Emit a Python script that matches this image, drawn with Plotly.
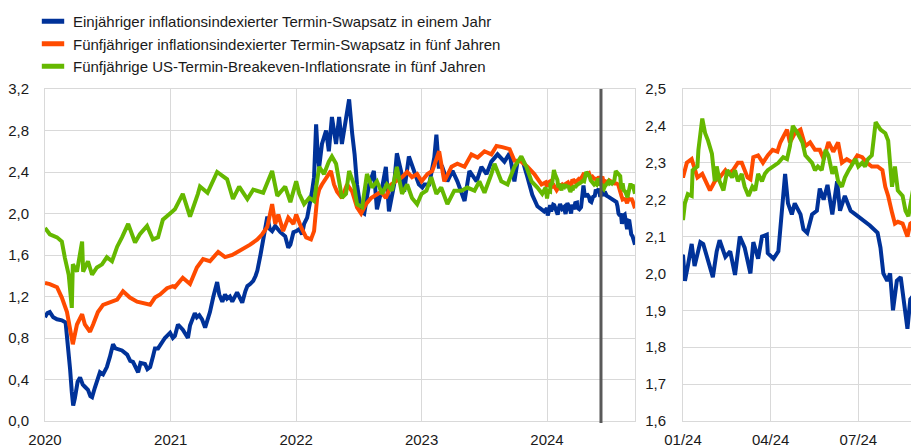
import plotly.graph_objects as go

# ---------------- data ----------------
series_names = [
    "Einjähriger inflationsindexierter Termin-Swapsatz in einem Jahr",
    "Fünfjähriger inflationsindexierter Termin-Swapsatz in fünf Jahren",
    "Fünfjährige US-Termin-Breakeven-Inflationsrate in fünf Jahren",
]

blue_pts = [
    ("2020-01-01",1.00),("2020-01-08",1.04),("2020-01-15",1.05),("2020-01-25",1.00),("2020-02-05",0.98),
    ("2020-02-19",0.97),("2020-03-01",0.95),("2020-03-08",0.75),("2020-03-14",0.50),("2020-03-19",0.28),
    ("2020-03-23",0.15),("2020-03-28",0.22),("2020-04-05",0.38),("2020-04-12",0.42),("2020-04-20",0.35),
    ("2020-04-26",0.33),("2020-05-05",0.30),("2020-05-12",0.24),("2020-05-17",0.23),("2020-05-25",0.32),
    ("2020-06-03",0.40),("2020-06-09",0.47),("2020-06-18",0.45),("2020-06-29",0.52),("2020-07-08",0.62),
    ("2020-07-17",0.74),("2020-07-24",0.70),("2020-07-31",0.69),("2020-08-12",0.68),("2020-08-27",0.64),
    ("2020-09-05",0.58),("2020-09-13",0.57),("2020-09-20",0.52),("2020-09-28",0.47),("2020-10-05",0.56),
    ("2020-10-18",0.55),("2020-10-25",0.50),("2020-11-02",0.52),("2020-11-10",0.62),("2020-11-16",0.70),
    ("2020-11-25",0.70),("2020-12-06",0.76),("2020-12-15",0.80),("2020-12-24",0.83),("2020-12-30",0.85),
    ("2021-01-07",0.80),("2021-01-13",0.82),("2021-01-22",0.93),("2021-02-05",0.88),("2021-02-20",0.80),
    ("2021-02-26",0.92),("2021-03-12",1.04),("2021-03-18",1.00),("2021-03-25",1.02),("2021-04-02",0.98),
    ("2021-04-11",0.90),("2021-04-17",0.96),("2021-04-25",1.05),("2021-05-05",1.20),("2021-05-16",1.34),
    ("2021-05-22",1.22),("2021-05-31",1.15),("2021-06-08",1.22),("2021-06-14",1.18),("2021-06-22",1.20),
    ("2021-06-29",1.15),("2021-07-13",1.24),("2021-07-20",1.20),("2021-07-28",1.14),("2021-08-06",1.25),
    ("2021-08-12",1.30),("2021-08-20",1.32),("2021-08-29",1.35),("2021-09-05",1.40),("2021-09-10",1.45),
    ("2021-09-19",1.60),("2021-09-27",1.73),("2021-10-09",1.97),("2021-10-16",1.85),("2021-10-23",1.83),
    ("2021-11-01",1.88),("2021-11-10",1.84),("2021-11-16",1.82),("2021-11-30",1.78),("2021-12-09",1.67),
    ("2021-12-15",1.70),("2021-12-24",1.82),("2022-01-01",1.83),("2022-01-10",1.85),("2022-01-18",1.80),
    ("2022-01-24",1.90),("2022-02-02",1.96),("2022-02-08",2.05),("2022-02-16",2.21),("2022-02-22",2.35),
    ("2022-02-28",2.86),("2022-03-05",2.55),("2022-03-09",2.45),("2022-03-17",2.67),("2022-03-29",2.80),
    ("2022-04-06",2.60),("2022-04-15",2.93),("2022-04-27",2.67),("2022-05-06",2.93),("2022-05-14",2.67),
    ("2022-05-26",2.93),("2022-06-04",3.10),("2022-06-13",2.77),("2022-06-20",2.57),("2022-06-27",2.28),
    ("2022-07-09",2.02),("2022-07-18",2.00),("2022-08-01",2.28),("2022-08-15",2.41),("2022-08-24",2.04),
    ("2022-09-08",2.25),("2022-09-19",2.45),("2022-09-28",2.02),("2022-10-13",2.28),("2022-10-21",2.58),
    ("2022-11-02",2.41),("2022-11-11",2.21),("2022-11-25",2.55),("2022-12-10",2.41),("2022-12-24",2.28),
    ("2023-01-03",2.25),("2023-01-09",2.28),("2023-01-23",2.28),("2023-02-07",2.54),("2023-02-13",2.76),
    ("2023-02-20",2.45),("2023-03-02",2.45),("2023-03-17",2.31),("2023-04-01",2.41),("2023-04-15",2.31),
    ("2023-05-06",2.12),("2023-05-20",2.41),("2023-06-10",2.31),("2023-06-24",2.45),("2023-07-09",2.38),
    ("2023-07-23",2.50),("2023-08-10",2.57),("2023-08-30",2.50),("2023-09-14",2.58),("2023-09-28",2.31),
    ("2023-10-07",2.50),("2023-10-21",2.52),("2023-11-05",2.35),("2023-11-19",2.18),("2023-12-04",2.07),
    ("2023-12-24",2.02),
    ("2024-01-01",2.05),("2024-01-03",1.98),("2024-01-06",2.02),("2024-01-10",2.08),("2024-01-13",2.02),
    ("2024-01-19",2.085),("2024-01-22",2.08),("2024-01-26",2.045),("2024-02-01",1.99),("2024-02-05",2.06),
    ("2024-02-08",2.09),("2024-02-14",2.045),("2024-02-19",2.06),("2024-02-24",1.996),("2024-02-29",2.10),
    ("2024-03-05",2.07),("2024-03-11",2.00),("2024-03-14",2.085),("2024-03-19",2.04),("2024-03-23",2.10),
    ("2024-03-28",2.105),("2024-03-29",2.055),("2024-04-04",2.04),("2024-04-09",2.06),("2024-04-13",2.19),
    ("2024-04-16",2.27),("2024-04-19",2.19),("2024-04-23",2.16),("2024-04-26",2.19),("2024-05-02",2.16),
    ("2024-05-05",2.12),("2024-05-09",2.11),("2024-05-14",2.16),("2024-05-19",2.17),("2024-05-22",2.23),
    ("2024-05-26",2.20),("2024-05-30",2.24),("2024-06-04",2.16),("2024-06-09",2.25),("2024-06-12",2.17),
    ("2024-06-17",2.21),("2024-06-23",2.17),("2024-06-28",2.16),("2024-07-03",2.15),("2024-07-08",2.14),
    ("2024-07-13",2.13),("2024-07-21",2.11),("2024-07-24",2.07),("2024-07-27",2.00),("2024-07-31",1.98),
    ("2024-08-03",2.00),("2024-08-06",1.90),("2024-08-10",1.98),("2024-08-14",1.99),("2024-08-17",1.93),
    ("2024-08-21",1.85),("2024-08-24",1.93),("2024-08-27",1.94),("2024-08-31",1.85),("2024-09-02",1.80),
    ("2024-09-06",1.78),("2024-09-10",1.74),("2024-09-13",1.70),
]

orange_pts = [
    ("2020-01-01",1.33),("2020-01-15",1.32),("2020-02-05",1.29),("2020-02-19",1.19),("2020-03-05",1.05),
    ("2020-03-14",0.90),("2020-03-22",0.74),("2020-04-03",0.93),("2020-04-18",1.03),("2020-04-26",0.93),
    ("2020-05-11",0.86),("2020-05-20",0.93),("2020-06-03",1.05),("2020-06-18",1.12),("2020-07-08",1.14),
    ("2020-07-29",1.17),("2020-08-15",1.25),("2020-09-04",1.19),("2020-09-25",1.15),("2020-10-12",1.14),
    ("2020-11-02",1.12),("2020-11-16",1.19),("2020-12-01",1.22),("2020-12-21",1.28),("2021-01-07",1.30),
    ("2021-01-13",1.29),("2021-02-05",1.38),("2021-02-26",1.32),("2021-03-18",1.48),("2021-04-05",1.56),
    ("2021-04-25",1.54),("2021-05-19",1.63),("2021-06-08",1.58),("2021-06-29",1.60),("2021-07-16",1.63),
    ("2021-08-06",1.67),("2021-08-20",1.70),("2021-09-10",1.75),("2021-09-24",1.80),("2021-10-09",1.87),
    ("2021-10-23",2.09),("2021-11-01",1.90),("2021-11-10",1.99),("2021-11-24",1.83),("2021-12-09",1.96),
    ("2021-12-24",1.90),("2022-01-01",1.99),("2022-01-15",1.87),("2022-01-30",1.77),("2022-02-13",1.75),
    ("2022-02-22",1.83),("2022-03-03",2.15),("2022-03-09",2.23),("2022-03-17",2.28),("2022-04-01",2.35),
    ("2022-04-12",2.41),("2022-04-21",2.28),("2022-04-30",2.21),("2022-05-14",2.15),("2022-05-29",2.28),
    ("2022-06-13",2.21),("2022-06-27",2.06),("2022-07-09",2.00),("2022-07-23",2.09),("2022-08-07",2.15),
    ("2022-08-21",2.18),("2022-09-05",2.21),("2022-09-19",2.15),("2022-10-04",2.28),("2022-10-18",2.31),
    ("2022-11-05",2.35),("2022-11-20",2.40),("2022-12-04",2.35),("2022-12-19",2.38),("2023-01-01",2.31),
    ("2023-01-18",2.38),("2023-02-01",2.41),("2023-02-21",2.60),("2023-03-08",2.31),("2023-03-29",2.45),
    ("2023-04-15",2.48),("2023-05-06",2.45),("2023-05-26",2.57),("2023-06-13",2.54),("2023-07-03",2.60),
    ("2023-07-23",2.57),("2023-08-07",2.65),("2023-08-24",2.64),("2023-09-14",2.62),("2023-09-28",2.51),
    ("2023-10-18",2.50),("2023-11-05",2.45),("2023-11-25",2.38),("2023-12-16",2.28),("2023-12-28",2.30),
    ("2024-01-01",2.26),("2024-01-05",2.30),("2024-01-10",2.31),("2024-01-16",2.26),("2024-01-21",2.27),
    ("2024-01-26",2.245),("2024-01-29",2.225),("2024-02-03",2.25),("2024-02-08",2.26),("2024-02-14",2.28),
    ("2024-02-17",2.27),("2024-02-22",2.28),("2024-02-27",2.30),("2024-03-02",2.30),("2024-03-08",2.26),
    ("2024-03-11",2.255),("2024-03-14",2.315),("2024-03-19",2.32),("2024-03-24",2.30),("2024-03-29",2.32),
    ("2024-04-03",2.335),("2024-04-08",2.33),("2024-04-11",2.355),("2024-04-14",2.37),("2024-04-18",2.39),
    ("2024-04-21",2.355),("2024-04-26",2.38),("2024-05-02",2.39),("2024-05-07",2.345),("2024-05-12",2.355),
    ("2024-05-17",2.335),("2024-05-22",2.335),("2024-05-26",2.31),("2024-05-31",2.356),("2024-06-05",2.33),
    ("2024-06-10",2.355),("2024-06-14",2.30),("2024-06-19",2.31),("2024-06-25",2.30),("2024-06-30",2.32),
    ("2024-07-05",2.315),("2024-07-10",2.30),("2024-07-15",2.29),("2024-07-21",2.29),("2024-07-26",2.28),
    ("2024-07-29",2.235),("2024-08-01",2.21),("2024-08-05",2.165),("2024-08-08",2.135),("2024-08-11",2.14),
    ("2024-08-16",2.135),("2024-08-21",2.10),("2024-08-24",2.135),("2024-08-27",2.14),("2024-08-31",2.125),
    ("2024-09-02",2.15),("2024-09-06",2.12),("2024-09-10",2.07),("2024-09-13",2.05),
]

green_pts = [
    ("2020-01-01",1.86),("2020-01-15",1.80),("2020-02-05",1.77),("2020-02-19",1.73),("2020-02-28",1.57),
    ("2020-03-05",1.50),("2020-03-10",1.41),("2020-03-19",1.09),("2020-03-22",1.51),("2020-04-03",1.44),
    ("2020-04-12",1.63),("2020-04-18",1.73),("2020-04-21",1.44),("2020-05-05",1.54),("2020-05-17",1.41),
    ("2020-05-31",1.48),("2020-06-15",1.51),("2020-06-29",1.58),("2020-07-14",1.54),("2020-07-29",1.68),
    ("2020-08-12",1.77),("2020-08-30",1.90),("2020-09-19",1.72),("2020-10-03",1.80),("2020-10-24",1.88),
    ("2020-11-10",1.75),("2020-11-25",1.77),("2020-12-09",1.94),("2020-12-30",2.00),("2021-01-13",2.04),
    ("2021-02-05",2.19),("2021-02-26",1.97),("2021-03-21",2.19),("2021-03-27",2.26),("2021-04-18",2.20),
    ("2021-05-16",2.40),("2021-06-14",2.33),("2021-07-01",2.14),("2021-07-19",2.26),("2021-08-12",2.14),
    ("2021-08-29",2.23),("2021-09-27",2.20),("2021-10-23",2.41),("2021-11-07",2.17),("2021-11-30",2.26),
    ("2021-12-15",2.11),("2022-01-01",2.31),("2022-01-10",2.19),("2022-01-24",2.09),("2022-02-08",2.15),
    ("2022-02-22",2.12),("2022-03-03",2.30),("2022-03-09",2.45),("2022-03-23",2.38),("2022-04-06",2.50),
    ("2022-04-15",2.55),("2022-04-27",2.48),("2022-05-06",2.31),("2022-05-14",2.15),("2022-05-26",2.19),
    ("2022-06-04",2.41),("2022-06-18",2.28),("2022-06-27",2.09),("2022-07-12",2.06),("2022-07-26",2.38),
    ("2022-08-10",2.25),("2022-08-24",2.31),("2022-09-08",2.19),("2022-09-22",2.28),("2022-10-07",2.22),
    ("2022-10-21",2.45),("2022-11-05",2.19),("2022-11-20",2.28),("2022-12-04",2.15),("2022-12-19",2.09),
    ("2023-01-01",2.19),("2023-01-15",2.22),("2023-01-29",2.35),("2023-02-13",2.19),("2023-02-27",2.25),
    ("2023-03-17",2.09),("2023-04-06",2.22),("2023-04-27",2.22),("2023-05-14",2.25),("2023-06-04",2.22),
    ("2023-06-18",2.31),("2023-07-03",2.20),("2023-07-23",2.38),("2023-08-01",2.48),("2023-08-21",2.31),
    ("2023-09-08",2.28),("2023-09-28",2.45),("2023-10-18",2.55),("2023-11-02",2.45),("2023-11-17",2.31),
    ("2023-12-04",2.25),("2023-12-18",2.19),("2023-12-28",2.25),
    ("2024-01-01",2.145),("2024-01-03",2.19),("2024-01-06",2.215),("2024-01-10",2.21),("2024-01-11",2.28),
    ("2024-01-16",2.29),("2024-01-17",2.335),("2024-01-21",2.42),("2024-01-24",2.38),("2024-01-27",2.36),
    ("2024-01-31",2.325),("2024-02-03",2.25),("2024-02-05",2.29),("2024-02-08",2.25),("2024-02-12",2.225),
    ("2024-02-16",2.28),("2024-02-21",2.26),("2024-02-24",2.28),("2024-02-27",2.25),("2024-03-02",2.27),
    ("2024-03-05",2.235),("2024-03-09",2.21),("2024-03-13",2.235),("2024-03-16",2.225),("2024-03-19",2.27),
    ("2024-03-23",2.25),("2024-03-26",2.27),("2024-03-29",2.28),("2024-04-04",2.29),("2024-04-09",2.30),
    ("2024-04-14",2.315),("2024-04-18",2.31),("2024-04-21",2.345),("2024-04-24",2.40),("2024-04-29",2.38),
    ("2024-05-04",2.355),("2024-05-07",2.32),("2024-05-10",2.31),("2024-05-14",2.30),("2024-05-17",2.28),
    ("2024-05-20",2.29),("2024-05-24",2.28),("2024-05-28",2.335),("2024-05-31",2.32),("2024-06-04",2.27),
    ("2024-06-07",2.29),("2024-06-10",2.25),("2024-06-14",2.235),("2024-06-17",2.26),("2024-06-21",2.28),
    ("2024-06-25",2.30),("2024-06-28",2.31),("2024-07-01",2.29),("2024-07-05",2.30),("2024-07-08",2.29),
    ("2024-07-11",2.31),("2024-07-15",2.32),("2024-07-19",2.41),("2024-07-24",2.39),("2024-07-29",2.38),
    ("2024-08-01",2.36),("2024-08-03",2.28),("2024-08-05",2.235),("2024-08-08",2.29),("2024-08-11",2.225),
    ("2024-08-16",2.21),("2024-08-19",2.17),("2024-08-22",2.155),("2024-08-26",2.215),("2024-08-29",2.245),
    ("2024-08-31",2.29),("2024-09-02",2.245),("2024-09-06",2.28),("2024-09-10",2.23),("2024-09-13",2.19),
]

blue_dates = [d for d, v in blue_pts]
blue_vals = [v for d, v in blue_pts]
orange_dates = [d for d, v in orange_pts]
orange_vals = [v for d, v in orange_pts]
green_dates = [d for d, v in green_pts]
green_vals = [v for d, v in green_pts]

event_date = "2024-06-06"

# ---------------- styling ----------------
colors = ["#003299", "#FF4B00", "#65B800"]
OFF = 8  # page body margin offset of the figure inside the window
W, H = 919 - OFF, 447 - OFF
FONT = "Arial, Liberation Sans, sans-serif"
GRID = "#d9d9d9"

fig = go.Figure()

series = [(blue_dates, blue_vals), (orange_dates, orange_vals), (green_dates, green_vals)]
for (dts, vals), col in zip(series, colors):
    for xa, ya in (("x", "y"), ("x2", "y2")):
        fig.add_trace(go.Scatter(x=dts, y=vals, mode="lines", xaxis=xa, yaxis=ya,
                                 line=dict(color=col, width=4), showlegend=False,
                                 hoverinfo="skip"))

# legend entries
for i, (name, col) in enumerate(zip(series_names, colors)):
    fig.add_trace(go.Scatter(x=[None], y=[None], mode="markers", name=name,
                             legendgroup=f"g{i}",
                             marker=dict(symbol="line-ew", size=16, color=col,
                                         line=dict(color=col, width=6))))

top_px, bot_px = 89 - OFF, 421 - OFF
ydom = [(H - bot_px) / H, (H - top_px) / H]

axis_common = dict(showgrid=True, gridcolor=GRID, gridwidth=1, zeroline=False,
                   showline=True, linecolor=GRID, linewidth=1, mirror=True,
                   ticks="", tickfont=dict(family=FONT, size=15, color="#1a1a1a"),
                   automargin=False)

fig.update_layout(
    width=W, height=H,
    margin=dict(l=0, r=0, t=0, b=0, autoexpand=False),
    paper_bgcolor="white", plot_bgcolor="white",
    separators=", ",
    font=dict(family=FONT, size=15, color="#1a1a1a"),
    xaxis=dict(domain=[(45 - OFF) / W, (635 - OFF) / W], range=["2020-01-01", "2024-09-13"],
               dtick="M12", tick0="2020-01-01", tickformat="%Y", anchor="y",
               ticklabelstandoff=5, **axis_common),
    yaxis=dict(domain=ydom, range=[0, 3.2], dtick=0.4, tick0=0, tickformat=".1f",
               anchor="x", ticklabelstandoff=12, **axis_common),
    xaxis2=dict(domain=[(683 - OFF) / W, 1.0], range=["2024-01-01", "2024-09-02"],
                dtick="M3", tick0="2024-01-01", tickformat="%m/%y", anchor="y2",
                ticklabelstandoff=5, **axis_common),
    yaxis2=dict(domain=ydom, range=[1.6, 2.5], dtick=0.1, tick0=1.6, tickformat=".1f",
                anchor="x2", ticklabelstandoff=13, **axis_common),
    legend=dict(xref="paper", yref="paper", x=25 / W, y=1 + 3 / H,
                xanchor="left", yanchor="top", bgcolor="rgba(0,0,0,0)",
                font=dict(family=FONT, size=15, color="#1a1a1a"),
                tracegroupgap=0, itemclick=False, itemdoubleclick=False),
    hovermode=False,
    shapes=[dict(type="line", xref="x", yref="y domain", x0=event_date, x1=event_date,
                 y0=-0.006, y1=1, line=dict(color="#595959", width=3), layer="above")],
)

fig.write_html("out.html", config={"displayModeBar": False})
